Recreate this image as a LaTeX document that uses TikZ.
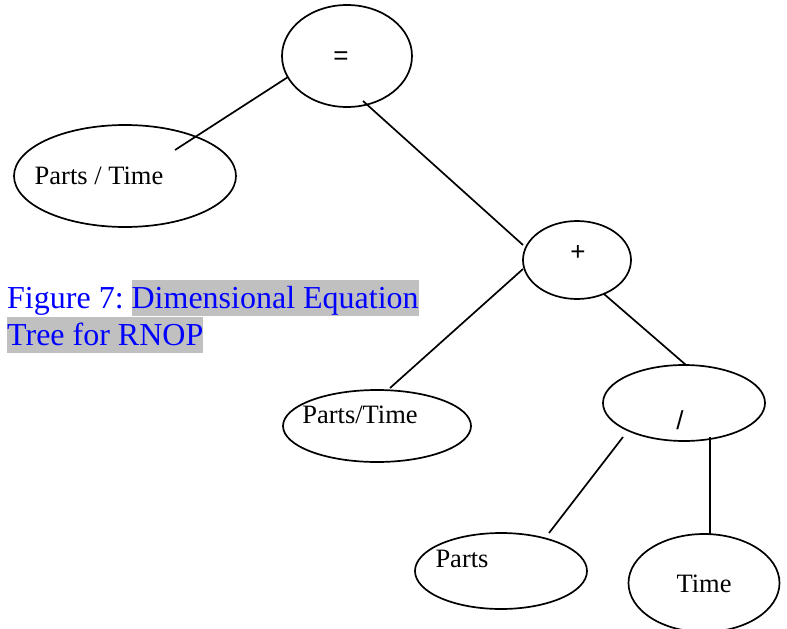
\documentclass[tikz,border=0pt]{standalone}
\usepackage{fontspec}
\setmainfont{Liberation Serif}
\newfontfamily\symfont{Liberation Sans}
\usetikzlibrary{shapes.geometric}
\definecolor{capblue}{RGB}{0,0,255}
\definecolor{capgray}{RGB}{192,192,192}
\newcommand{\hl}[1]{{\setlength{\fboxsep}{0pt}\colorbox{capgray}{\rule[-7.5pt]{0pt}{36pt}#1}}}
\begin{document}
\begin{tikzpicture}[x=1pt,y=-1pt,
  oval/.style={ellipse,draw=black,line width=1.7pt,inner sep=0pt},
  word/.style={font=\fontsize{26.5}{30}\selectfont,inner sep=0pt},
  op/.style={font=\symfont\fontsize{26}{30}\selectfont,inner sep=0pt},
  link/.style={line width=1.7pt}]
\useasboundingbox (0,0) rectangle (787,629);

% tree nodes (outlines)
\node[oval,minimum width=130pt,minimum height=102pt] (eq)    at (347,56)  {};
\node[oval,minimum width=222pt,minimum height=102pt] (lhs)   at (125,176) {};
\node[oval,minimum width=108pt,minimum height=78pt]  (plus)  at (577,260) {};
\node[oval,minimum width=188pt,minimum height=72pt]  (rate)  at (377,426) {};
\node[oval,minimum width=162pt,minimum height=76pt]  (div)   at (684,403) {};
\node[oval,minimum width=172pt,minimum height=76pt]  (parts) at (501,571) {};
\node[oval,minimum width=151pt,minimum height=98pt]  (time)  at (704,583) {};

% labels inside the ovals
\node[op]   (eqt)    at (341,58)  {=};
\node[op]   (plust)  at (578,253) {+};
\node[op]   (divt)   at (680,420) {/};
\node[word] (lhst)   at (99,176)  {Parts / Time};
\node[word] (ratet)  at (360,415) {Parts/Time};
\node[word] (partst) at (462,559) {Parts};
\node[word] (timet)  at (704,584) {Time};

% connector end points
\coordinate (c1a) at ([shift={(50,-26)}]lhs.center);
\coordinate (c1b) at ([shift={(-59,21)}]eq.center);
\coordinate (c2a) at ([shift={(16,45)}]eq.center);
\coordinate (c2b) at ([shift={(-54,-15)}]plus.center);
\coordinate (c3a) at ([shift={(13,-38)}]rate.center);
\coordinate (c3b) at ([shift={(-54,9)}]plus.center);
\coordinate (c4a) at ([shift={(27,34)}]plus.center);
\coordinate (c4b) at ([shift={(2,-38)}]div.center);
\coordinate (c5a) at ([shift={(-61,34)}]div.center);
\coordinate (c5b) at ([shift={(48,-38)}]parts.center);
\coordinate (c6a) at ([shift={(26,34)}]div.center);
\coordinate (c6b) at ([shift={(6,-49)}]time.center);

\draw[link] (c1a) -- (c1b);
\draw[link] (c2a) -- (c2b);
\draw[link] (c3a) -- (c3b);
\draw[link] (c4a) -- (c4b);
\draw[link] (c5a) -- (c5b);
\draw[link] (c6a) -- (c6b);

% caption
\node[anchor=base west,inner sep=0pt,text=capblue,font=\fontsize{32}{37}\selectfont] (cap1) at (7,308)
  {Figure 7:\hspace{8pt}\hl{Dimensional Equation}};
\node[anchor=base west,inner sep=0pt,text=capblue,font=\fontsize{32}{37}\selectfont] (cap2) at (7,345)
  {\hl{Tree for RNOP}};
\end{tikzpicture}
\end{document}
